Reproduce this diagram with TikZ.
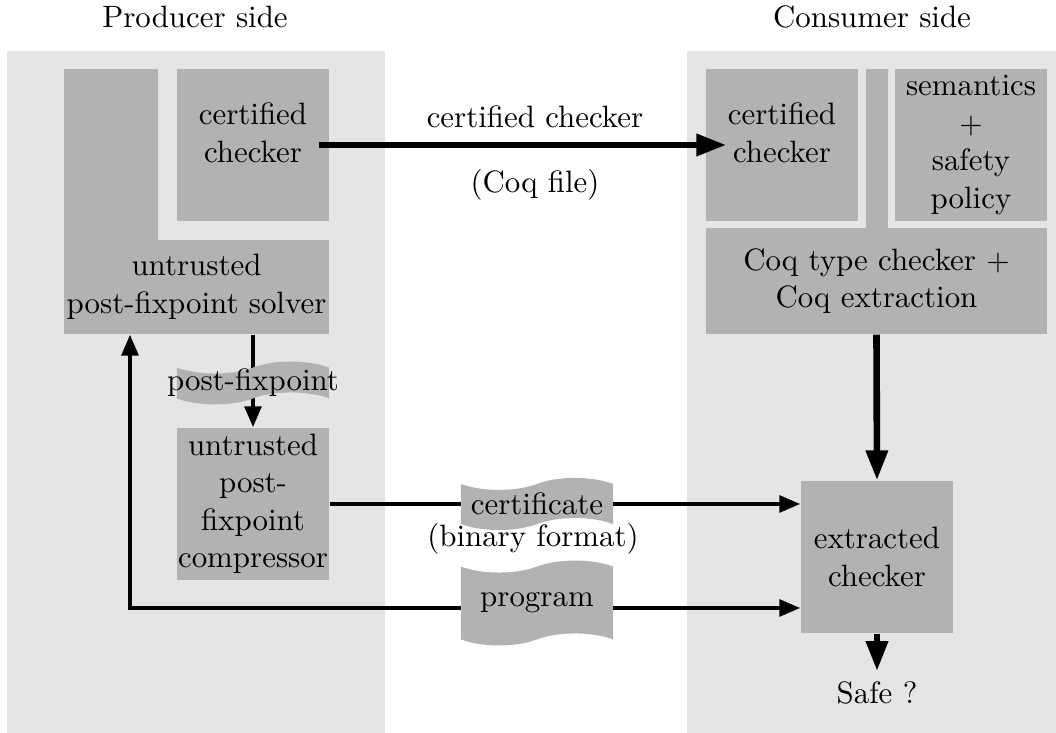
\documentclass[tikz,border=0pt]{standalone}
\usepackage{fontspec}
\usetikzlibrary{positioning}
\usetikzlibrary{shapes.symbols}
\usetikzlibrary{arrows.meta}

\begin{document}
\begin{tikzpicture}[x=0.3333pt, y=-0.3333pt,
    every node/.style={font=\fontsize{10.3}{12.5}\selectfont, align=center},
    panel/.style={fill=gray!20},
    box/.style={fill=gray!60, inner xsep=0pt, inner ysep=1pt, minimum width=50.7pt, minimum height=50.7pt},
    paper/.style={tape, fill=gray!60, inner sep=1pt, minimum width=50.7pt, tape bend height=4pt},
    >={Triangle[length=7pt,width=5.5pt]},
    thinarrow/.style={line width=1.4pt},
    thickarrow/.style={line width=2.2pt, -{Triangle[length=10pt,width=7pt]}}]
\useasboundingbox (0,0) rectangle (1056,733);
\fill[panel] (7,51) rectangle (385,733);
\fill[panel] (687,51) rectangle (1056,733);

\node (producer) at (195,17) {Producer side};
\node (consumer) at (872,17) {Consumer side};

% producer side
\fill[gray!60] (64,69) rectangle (158,241);
\node[box, minimum width=88.3pt, minimum height=31.3pt] (solver) at (196.5,287) {untrusted\\post-fixpoint solver};
\node[box] (lcertbox) at (253,145) {};
\node (lcert) at (253,133) {certified\\checker};
\node[box] (comp) at (253,504) {untrusted\\post-\\fixpoint\\compressor};

% consumer side
\node[box] (rcertbox) at (782,145) {};
\node (rcert) at (782,133) {certified\\checker};
\node[box] (sem) at (971,145) {semantics\\$+$\\safety\\policy};
\fill[gray!60] (866,69) rectangle (888,229);
\node[box, minimum width=113.7pt, minimum height=35.3pt] (coq) at (876.5,281) {Coq type checker $+$\\Coq extraction};
\node[box] (extr) at (877,557) {extracted\\checker};
\node (safe) at (877,693) {Safe ?};

\coordinate (pcorner) at (130,608);

% arrows
\draw[thickarrow] ([xshift=-3.7pt]lcertbox.east) -- ([xshift=7pt]rcertbox.west);
\node (coqlabel) at (535,117) {certified checker};
\node (coqfile) at (535,185) {(Coq file)};
\draw[thinarrow, ->] (solver.south -| comp.north) -- (comp.north);
\draw[thinarrow, ->] (comp.east) -- (comp.east -| extr.west);
\draw[thinarrow, <->] (solver.south -| pcorner) |- (extr.west |- pcorner);
\draw[thickarrow] (coq.south) -- (extr.north);
\draw[thickarrow] (extr.south) -- (safe.north);

% what is sent
\node[paper, minimum height=14.3pt, label=center:post-fixpoint] (pfix) at (253,383) {};
\node[paper, minimum height=11.7pt] (cert) at (537,504) {certificate};
\node (binfmt) at (533,539) {(binary format)};
\node[paper, minimum height=28.3pt] (prog) at (537,603) {program};
\end{tikzpicture}
\end{document}
